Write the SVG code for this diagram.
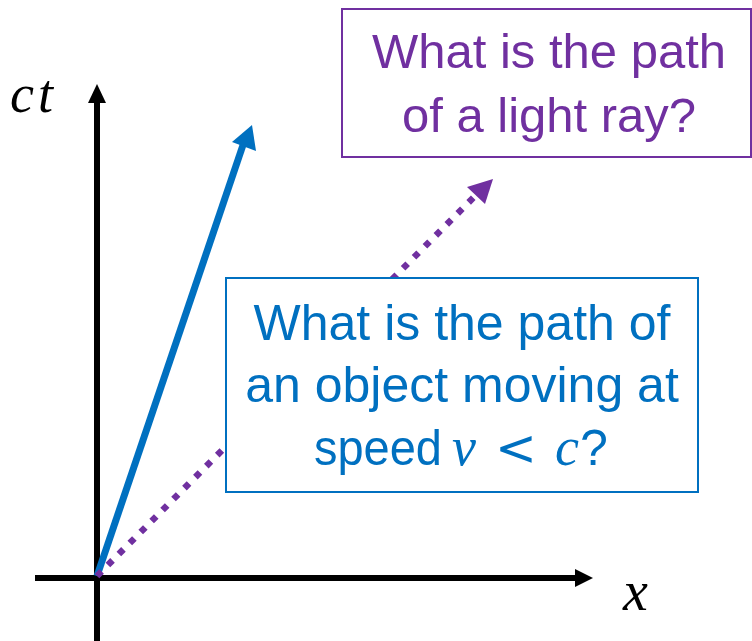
<svg xmlns="http://www.w3.org/2000/svg" width="752" height="641" viewBox="0 0 752 641">
<defs>
<style>
.axis{stroke:#000;stroke-width:6;fill:none}
.lbl{font-family:"Liberation Sans",Arial,sans-serif;text-anchor:middle}
.math{font-family:"Liberation Serif","DejaVu Serif",serif;font-style:italic}
</style>
</defs>
<rect width="752" height="641" fill="#fff"/>
<g id="connectors">
<line class="axis" x1="97" y1="641" x2="97" y2="100"/>
<polygon points="97,84 88,103 106,103" fill="#000"/>
<line class="axis" x1="35" y1="578" x2="577" y2="578"/>
<polygon points="593,578 575,569 575,587" fill="#000"/>
<line x1="97" y1="576" x2="243" y2="145" stroke="#0070C0" stroke-width="7"/>
<polygon points="252,125 232,142 256,151" fill="#0070C0"/>
<line x1="97" y1="576" x2="476" y2="195" stroke="#7030A0" stroke-width="6.5" stroke-dasharray="6.5 9"/>
<polygon points="493,179 467,187 485,204" fill="#7030A0"/>
</g>
<g id="label-ct"><text class="math" x="10" y="112" font-size="54" letter-spacing="4">ct</text></g>
<g id="label-x"><text class="math" x="623" y="610" font-size="56">x</text></g>
<g id="light-question">
<rect x="342" y="9" width="409" height="148" fill="#fff" stroke="#7030A0" stroke-width="2"/>
<text class="lbl" fill="#7030A0" font-size="49"><tspan x="549" y="68">What is the path</tspan><tspan x="549" y="132">of a light ray?</tspan></text>
</g>
<g id="object-question">
<rect x="226" y="278" width="472" height="214" fill="#fff" stroke="#0070C0" stroke-width="2"/>
<text class="lbl" fill="#0070C0" font-size="50"><tspan x="462" y="340">What is the path of</tspan><tspan x="462" y="402">an object moving at</tspan></text>
<text fill="#0070C0" font-size="50" font-family="Liberation Sans, Arial, sans-serif" y="465"><tspan x="314" textLength="128" lengthAdjust="spacingAndGlyphs">speed</tspan><tspan class="math" font-size="54" x="452">v</tspan><tspan x="495" font-family="DejaVu Sans, sans-serif" font-size="50">&lt;</tspan><tspan class="math" font-size="54" x="555">c</tspan><tspan x="580">?</tspan></text>
</g>
</svg>
